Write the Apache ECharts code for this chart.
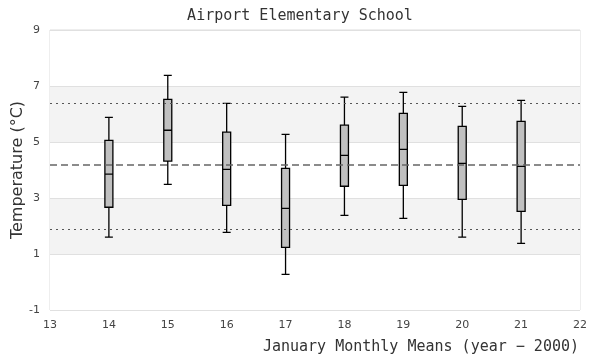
<!DOCTYPE html>
<html><head><meta charset="utf-8">
<script src="https://cdn.jsdelivr.net/npm/echarts@6/dist/echarts.min.js"></script>
<style>html,body{margin:0;padding:0;background:#fff}#c{width:600px;height:360px}</style>
</head><body><div id="c"></div>
<script>
const years = [14, 15, 16, 17, 18, 19, 20, 21];
const lowWhisker  = [1.60, 3.49, 1.77, 0.27, 2.38, 2.27, 1.60, 1.38];
const q1          = [2.67, 4.32, 2.74, 1.24, 3.42, 3.45, 2.95, 2.52];
const median      = [3.85, 5.42, 4.02, 2.63, 4.52, 4.74, 4.24, 4.13];
const q3          = [5.06, 6.52, 5.35, 4.06, 5.60, 6.02, 5.56, 5.74];
const highWhisker = [5.88, 7.38, 6.38, 5.27, 6.60, 6.77, 6.27, 6.49];
const overallMean = 4.2;
const upperLimit = 6.38;
const lowerLimit = 1.88;
const yTickLabels = [-1, 1, 3, 5, 7, 9];
const xTickLabels = [13, 14, 15, 16, 17, 18, 19, 20, 21, 22];

const boxData = years.map((y, i) => [y, lowWhisker[i], q1[i], median[i], q3[i], highWhisker[i]]);
const mono = '"DejaVu Sans Mono", "Liberation Mono", monospace';

const chart = echarts.init(document.getElementById('c'), null, {renderer: 'canvas'});
chart.setOption({
  animation: false,
  backgroundColor: '#fff',
  title: [{
    text: 'Airport Elementary School',
    left: 'center', top: 4,
    textStyle: {fontFamily: mono, fontSize: 15, fontWeight: 'normal', color: '#333'}
  }, {
    text: 'January Monthly Means (year \u2212 2000)',
    right: 21, top: 340, padding: 0,
    textStyle: {fontFamily: mono, fontSize: 15, fontWeight: 'normal', color: '#333'}
  }],
  grid: {left: 50, right: 20, top: 30, bottom: 50, show: true, borderColor: '#dddddd', borderWidth: 1,
         backgroundColor: 'transparent', outerBoundsMode: 'none', containLabel: false},
  xAxis: {
    type: 'value',
    min: xTickLabels[0], max: xTickLabels[xTickLabels.length - 1], interval: 1,
    axisLine: {show: false}, axisTick: {show: false},
    axisLabel: {
      margin: 10, fontSize: 11, color: '#444', fontFamily: '"DejaVu Sans", sans-serif',
      formatter: v => xTickLabels.includes(v) ? String(v) : ''
    },
    splitLine: {show: false}
  },
  yAxis: {
    type: 'value', min: -1, max: 9, interval: 1,
    name: 'Temperature (\u00B0C)', nameLocation: 'middle', nameGap: 24, nameMoveOverlap: false,
    nameTextStyle: {fontFamily: '"DejaVu Sans", sans-serif', fontSize: 16, color: '#333'},
    axisLine: {show: false}, axisTick: {show: false},
    axisLabel: {
      margin: 10, fontSize: 11, color: '#444', fontFamily: '"DejaVu Sans", sans-serif',
      formatter: v => yTickLabels.includes(v) ? String(v) : ''
    },
    splitLine: {show: true, lineStyle: {color: ['#e0e0e0', 'rgba(0,0,0,0)'], width: 1}},
    splitArea: {show: true, areaStyle: {color: ['#ffffff', '#ffffff', '#f3f3f3', '#f3f3f3']}}
  },
  series: [
    {
      type: 'line', data: [], z: 1, silent: true,
      markLine: {
        silent: true, symbol: 'none', label: {show: false},
        data: [
          {yAxis: upperLimit, lineStyle: {color: '#555', width: 1, type: [2, 4]}},
          {yAxis: overallMean, lineStyle: {color: '#666', width: 1.5, type: [7, 4]}},
          {yAxis: lowerLimit, lineStyle: {color: '#555', width: 1, type: [2, 4]}}
        ]
      }
    },
    {
      type: 'boxplot', z: 3,
      boxWidth: [8, 8],
      itemStyle: {color: '#c0c0c0', borderColor: '#000', borderWidth: 1.3},
      data: boxData
    }
  ]
});
</script>
</body></html>
